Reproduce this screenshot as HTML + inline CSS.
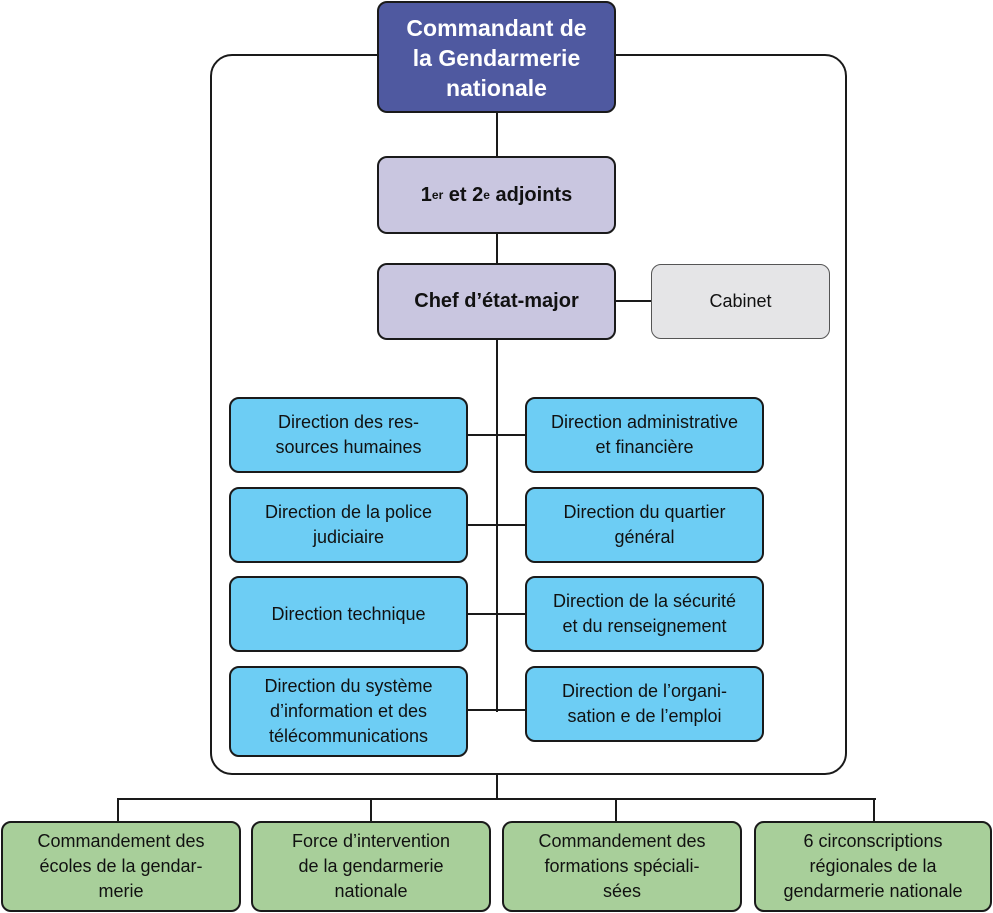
<!DOCTYPE html>
<html><head><meta charset="utf-8"><style>
body{margin:0;width:993px;height:913px;background:#fff;position:relative;font-family:"Liberation Sans",sans-serif;overflow:hidden}
.b{position:absolute;box-sizing:border-box;border:2px solid #1a1a1a;border-radius:10px;display:flex;align-items:center;justify-content:center;text-align:center;line-height:25px;font-size:18px;color:#111}
.l{position:absolute;background:#1a1a1a}
.c{background:#6dcdf4}
.g{background:#a8cf9a}
sup{font-size:12px;line-height:0;vertical-align:8px}
</style></head><body>
<div style="position:absolute;left:210px;top:54px;width:637px;height:721px;box-sizing:border-box;border:2px solid #1a1a1a;border-radius:22px"></div>
<div class="l" style="left:496px;top:110px;width:2px;height:602px"></div>
<div class="l" style="left:613px;top:300px;width:40px;height:2px"></div>
<div class="l" style="left:465px;top:434px;width:62px;height:2px"></div>
<div class="l" style="left:465px;top:524px;width:62px;height:2px"></div>
<div class="l" style="left:465px;top:613px;width:62px;height:2px"></div>
<div class="l" style="left:465px;top:709px;width:62px;height:2px"></div>
<div class="l" style="left:496px;top:774px;width:2px;height:25px"></div>
<div class="l" style="left:117px;top:798px;width:759px;height:2px"></div>
<div class="l" style="left:117px;top:798px;width:2px;height:24px"></div>
<div class="l" style="left:370px;top:798px;width:2px;height:24px"></div>
<div class="l" style="left:615px;top:798px;width:2px;height:24px"></div>
<div class="l" style="left:873px;top:798px;width:2px;height:24px"></div>

<div class="b" style="left:377px;top:1px;width:239px;height:112px;background:#4f59a0;color:#fff;font-weight:bold;font-size:23px;line-height:30px;padding-top:2px">Commandant de<br>la Gendarmerie<br>nationale</div>
<div class="b" style="left:377px;top:156px;width:239px;height:78px;background:#c9c6e0;font-weight:bold;font-size:20px">1<sup>er</sup>&nbsp;et 2<sup>e</sup>&nbsp;adjoints</div>
<div class="b" style="left:377px;top:263px;width:239px;height:77px;background:#c9c6e0;font-weight:bold;font-size:20px">Chef d’état-major</div>
<div class="b" style="left:651px;top:264px;width:179px;height:75px;background:#e5e5e7;border-width:1px;border-color:#555">Cabinet</div>

<div class="b c" style="left:229px;top:397px;width:239px;height:76px">Direction des res-<br>sources humaines</div>
<div class="b c" style="left:229px;top:487px;width:239px;height:76px">Direction de la police<br>judiciaire</div>
<div class="b c" style="left:229px;top:576px;width:239px;height:76px">Direction technique</div>
<div class="b c" style="left:229px;top:666px;width:239px;height:91px">Direction du système<br>d’information et des<br>télécommunications</div>
<div class="b c" style="left:525px;top:397px;width:239px;height:76px">Direction administrative<br>et financière</div>
<div class="b c" style="left:525px;top:487px;width:239px;height:76px">Direction du quartier<br>général</div>
<div class="b c" style="left:525px;top:576px;width:239px;height:76px">Direction de la sécurité<br>et du renseignement</div>
<div class="b c" style="left:525px;top:666px;width:239px;height:76px">Direction de l’organi-<br>sation e de l’emploi</div>

<div class="b g" style="left:1px;top:821px;width:240px;height:91px">Commandement des<br>écoles de la gendar-<br>merie</div>
<div class="b g" style="left:251px;top:821px;width:240px;height:91px">Force d’intervention<br>de la gendarmerie<br>nationale</div>
<div class="b g" style="left:502px;top:821px;width:240px;height:91px">Commandement des<br>formations spéciali-<br>sées</div>
<div class="b g" style="left:754px;top:821px;width:238px;height:91px">6 circonscriptions<br>régionales de la<br>gendarmerie nationale</div>
</body></html>
